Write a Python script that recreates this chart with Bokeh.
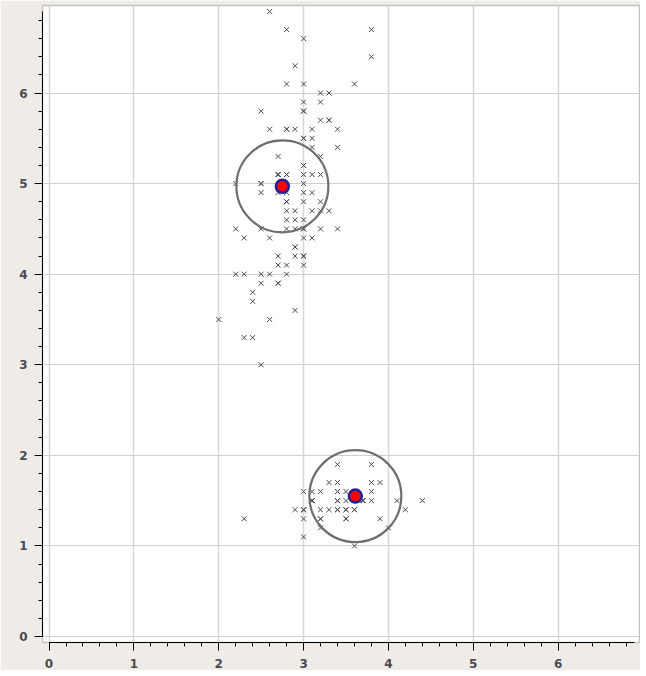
from bokeh.plotting import figure
from bokeh.models import Range1d, SingleIntervalTicker
from bokeh.embed import file_html
from bokeh.resources import INLINE

# Iris: sepal width (x) vs petal length (y)
sepal_width = [
    3.5, 3.0, 3.2, 3.1, 3.6, 3.9, 3.4, 3.4, 2.9, 3.1, 3.7, 3.4, 3.0, 3.0, 4.0, 4.4, 3.9, 3.5, 3.8, 3.8,
    3.4, 3.7, 3.6, 3.3, 3.4, 3.0, 3.4, 3.5, 3.4, 3.2, 3.1, 3.4, 4.1, 4.2, 3.1, 3.2, 3.5, 3.6, 3.0, 3.4,
    3.5, 2.3, 3.2, 3.5, 3.8, 3.0, 3.8, 3.2, 3.7, 3.3,
    3.2, 3.2, 3.1, 2.3, 2.8, 2.8, 3.3, 2.4, 2.9, 2.7, 2.0, 3.0, 2.2, 2.9, 2.9, 3.1, 3.0, 2.7, 2.2, 2.5,
    3.2, 2.8, 2.5, 2.8, 2.9, 3.0, 2.8, 3.0, 2.9, 2.6, 2.4, 2.4, 2.7, 2.7, 3.0, 3.4, 3.1, 2.3, 3.0, 2.5,
    2.6, 3.0, 2.6, 2.3, 2.7, 3.0, 2.9, 2.9, 2.5, 2.8,
    3.3, 2.7, 3.0, 2.9, 3.0, 3.0, 2.5, 2.9, 2.5, 3.6, 3.2, 2.7, 3.0, 2.5, 2.8, 3.2, 3.0, 3.8, 2.6, 2.2,
    3.2, 2.8, 2.8, 2.7, 3.3, 3.2, 2.8, 3.0, 2.8, 3.0, 2.8, 3.8, 2.8, 2.8, 2.6, 3.0, 3.4, 3.1, 3.0, 3.1,
    3.1, 3.1, 2.7, 3.2, 3.3, 3.0, 2.5, 3.0, 3.4, 3.0,
]
petal_length = [
    1.4, 1.4, 1.3, 1.5, 1.4, 1.7, 1.4, 1.5, 1.4, 1.5, 1.5, 1.6, 1.4, 1.1, 1.2, 1.5, 1.3, 1.4, 1.7, 1.5,
    1.7, 1.5, 1.0, 1.7, 1.9, 1.6, 1.6, 1.5, 1.4, 1.6, 1.6, 1.5, 1.5, 1.4, 1.5, 1.2, 1.3, 1.4, 1.3, 1.5,
    1.3, 1.3, 1.3, 1.6, 1.9, 1.4, 1.6, 1.4, 1.5, 1.4,
    4.7, 4.5, 4.9, 4.0, 4.6, 4.5, 4.7, 3.3, 4.6, 3.9, 3.5, 4.2, 4.0, 4.7, 3.6, 4.4, 4.5, 4.1, 4.5, 3.9,
    4.8, 4.0, 4.9, 4.7, 4.3, 4.4, 4.8, 5.0, 4.5, 3.5, 3.8, 3.7, 3.9, 5.1, 4.5, 4.5, 4.7, 4.4, 4.1, 4.0,
    4.4, 4.6, 4.0, 3.3, 4.2, 4.2, 4.2, 4.3, 3.0, 4.1,
    6.0, 5.1, 5.9, 5.6, 5.8, 6.6, 4.5, 6.3, 5.8, 6.1, 5.1, 5.3, 5.5, 5.0, 5.1, 5.3, 5.5, 6.7, 6.9, 5.0,
    5.7, 4.9, 6.7, 4.9, 5.7, 6.0, 4.8, 4.9, 5.6, 5.8, 6.1, 6.4, 5.6, 5.1, 5.6, 6.1, 5.6, 5.5, 4.8, 5.4,
    5.6, 5.1, 5.1, 5.9, 5.7, 5.2, 5.0, 5.2, 5.4, 5.1,
]

# Cluster centres
center_x = [2.75, 3.61]
center_y = [4.97, 1.55]

p = figure(
    width=640, height=670,
    output_backend="svg", toolbar_location=None,
    x_range=Range1d(-0.077, 6.959), y_range=Range1d(-0.066, 6.966),
    min_border_left=42, min_border_right=1, min_border_top=5, min_border_bottom=28,
)

p.background_fill_color = "white"
p.border_fill_color = "#efece8"
p.outline_line_color = "#c4c4c4"
p.outline_line_width = 1.5

for ax, grid in ((p.xaxis, p.xgrid), (p.yaxis, p.ygrid)):
    t = SingleIntervalTicker(interval=1, num_minor_ticks=5)
    ax.ticker = t
    grid.ticker = t
    ax.bounds = (0, 6.9)
    ax.axis_line_color = "black"
    ax.axis_line_width = 1
    ax.major_tick_line_color = "black"
    ax.minor_tick_line_color = "black"
    ax.major_tick_out = 8
    ax.major_tick_in = 0
    ax.minor_tick_out = 4
    ax.minor_tick_in = 0
    ax.major_label_text_font = "DejaVu Sans"
    ax.major_label_text_font_style = "bold"
    ax.major_label_text_font_size = "12px"
    ax.major_label_text_color = "#4a4a52"

p.xaxis.major_label_standoff = 8
p.yaxis.major_label_standoff = 7

p.xgrid.grid_line_color = "#d6d6d6"
p.xgrid.grid_line_width = 1.5
p.ygrid.grid_line_color = "#cfcfcf"
p.ygrid.grid_line_width = 1

p.scatter(sepal_width, petal_length, marker="x", size=7,
          line_color="#4a4a4a", line_width=1)

p.scatter(center_x, center_y, marker="circle", size=92,
          fill_color=None, line_color="#6e6e6e", line_width=2.2)

p.scatter(center_x, center_y, marker="circle", size=13,
          fill_color="#ff0000", line_color="#1f1f99", line_width=2.5)

open("out.html", "w").write(file_html(p, INLINE))
